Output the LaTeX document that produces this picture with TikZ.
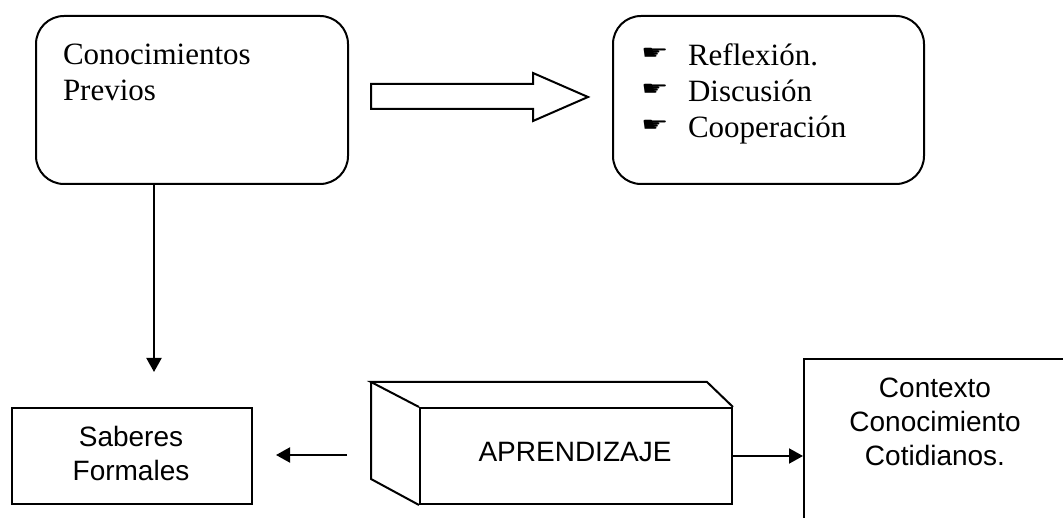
\documentclass[tikz,border=0pt]{standalone}
\usepackage{fontspec}
\setmainfont{Liberation Serif}
\newfontfamily\arialf{Liberation Sans}
\newfontfamily\handf{DejaVu Sans}
\usetikzlibrary{arrows.meta}
\begin{document}
\begin{tikzpicture}[x=1pt,y=-1pt,
  line width=2pt,
  rbox/.style={draw,rounded corners=28pt,inner sep=0pt,anchor=north west},
  sbox/.style={draw,inner sep=0pt,anchor=north west},
  serift/.style={inner sep=0pt,align=left,font=\fontsize{31}{36}\selectfont},
  sanst/.style={inner sep=0pt,align=center,font=\arialf\fontsize{28}{34}\selectfont},
  arr/.style={-{Triangle[length=14pt,width=15pt]}},
]
\useasboundingbox (0,0) rectangle (1063,518);
\clip (0,0) rectangle (1063,518);
\newcommand{\hand}{\makebox[47pt][l]{\raisebox{6pt}{\scalebox{1.7}[1.1]{\handf\fontsize{18}{18}\selectfont ☛}}}}
% top left box
\node[rbox,minimum width=312pt,minimum height=168pt] (prev) at (35,15) {};
\node[serift,anchor=north west] (prevt) at (62,43) {Conocimientos\\Previos};
% top right box
\node[rbox,minimum width=311pt,minimum height=168pt] (disc) at (612,15) {};
\node[serift,anchor=north west] (disct) at (640,43) {\hand Reflexión.\\\hand Discusión\\\hand Cooperación};
% block arrow
\draw (371,84) -- (533,84) -- (533,73) -- (588,97) -- (533,121) -- (533,109) -- (371,109) -- cycle;
% Saberes box
\node[sbox,minimum width=240pt,minimum height=96pt] (sab) at (11,407) {};
\node[sanst,anchor=north] (sabt) at (131,425) {Saberes\\Formales};
% cube
\node[draw,inner sep=0pt,minimum width=312pt,minimum height=96pt,anchor=north west] (apr) at (419,407) {};
\draw (apr.north west) -- (371,382) -- (707,382) -- (apr.north east);
\draw (371,382) -- (371,479) -- (apr.south west);
\node[sanst] (aprt) at (575,452) {APRENDIZAJE};
% contexto box
\node[sbox,minimum width=264pt,minimum height=200pt] (ctx) at (803,358) {};
\node[sanst,anchor=north] (ctxt) at (935,377) {Contexto\\Conocimiento\\Cotidianos.};
% connectors
\coordinate (vt) at (154,372);
\coordinate (ls) at (347,455);
\coordinate (le) at (276,455);
\draw[arr] (prev.south -| vt) -- (vt);
\draw[arr] (ls) -- (le);
\draw[arr] (apr.east) -- (ctx.west |- apr.east);
\end{tikzpicture}
\end{document}
